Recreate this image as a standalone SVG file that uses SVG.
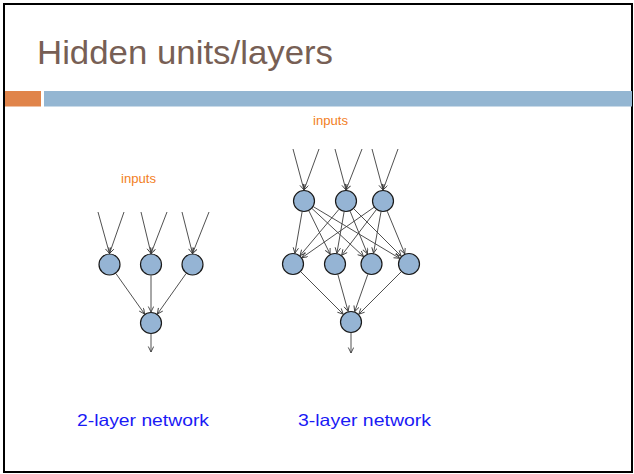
<svg xmlns="http://www.w3.org/2000/svg" width="634" height="474" viewBox="0 0 634 474">
  <style>
    .title { font-family: "Liberation Sans", Arial, sans-serif; font-size: 33.5px; fill: #775F55; }
    .inputs { font-family: "Liberation Sans", Arial, sans-serif; font-size: 13px; fill: #F27E1E; }
    .caption { font-family: "Liberation Sans", Arial, sans-serif; font-size: 16.5px; fill: #1A1AF5; }
    .unit { fill: #95B4D4; stroke: #1A1A1A; stroke-width: 1.2; }
    .edge { stroke: #3C3C3C; stroke-width: 0.9; fill: none; marker-end: url(#arrow); }
  </style>
  <defs>
    <marker id="arrow" markerUnits="userSpaceOnUse" markerWidth="8" markerHeight="8" refX="6" refY="3" orient="auto">
      <path d="M0.5,0.3 L6,3 L0.5,5.7" fill="none" stroke="#3C3C3C" stroke-width="0.9"/>
    </marker>
  </defs>

  <!-- page -->
  <rect x="0" y="0" width="634" height="474" fill="#FFFFFF"/>
  <rect x="4" y="4" width="628" height="468" fill="none" stroke="#000000" stroke-width="2"/>

  <!-- heading and rule bar -->
  <text class="title" x="37" y="64" textLength="296" lengthAdjust="spacingAndGlyphs">Hidden units/layers</text>
  <rect x="5" y="91" width="36" height="15.5" fill="#E0844A"/>
  <rect x="44" y="91" width="588" height="15.5" fill="#94B6D2"/>

  <!-- labels -->
  <text class="inputs" x="121" y="183" textLength="35" lengthAdjust="spacingAndGlyphs">inputs</text>
  <text class="inputs" x="313" y="125" textLength="35" lengthAdjust="spacingAndGlyphs">inputs</text>
  <text class="caption" x="77" y="426" textLength="132" lengthAdjust="spacingAndGlyphs">2-layer network</text>
  <text class="caption" x="298" y="426" textLength="133" lengthAdjust="spacingAndGlyphs">3-layer network</text>

  <!-- connectors -->
  <g id="connectors">
    <!-- 2-layer: inputs -> hidden -->
    <line class="edge" x1="98" y1="212" x2="109.5" y2="253.5"/>
    <line class="edge" x1="124" y1="212" x2="109.5" y2="253.5"/>
    <line class="edge" x1="141" y1="212" x2="151" y2="253.5"/>
    <line class="edge" x1="167" y1="212" x2="151" y2="253.5"/>
    <line class="edge" x1="182" y1="212" x2="192.5" y2="253.5"/>
    <line class="edge" x1="209" y1="212" x2="192.5" y2="253.5"/>
    <!-- 2-layer: hidden -> output -->
    <line class="edge" x1="115.9" y1="273.5" x2="144.6" y2="314"/>
    <line class="edge" x1="151" y1="275.5" x2="151" y2="312"/>
    <line class="edge" x1="186.1" y1="273.5" x2="157.4" y2="314"/>
    <line class="edge" x1="151" y1="334" x2="151" y2="352"/>

    <!-- 3-layer: inputs -> first hidden -->
    <line class="edge" x1="293" y1="149" x2="304" y2="190"/>
    <line class="edge" x1="319" y1="149" x2="304" y2="190"/>
    <line class="edge" x1="335" y1="149" x2="346" y2="190"/>
    <line class="edge" x1="362" y1="149" x2="346" y2="190"/>
    <line class="edge" x1="372" y1="149" x2="383" y2="190"/>
    <line class="edge" x1="398" y1="149" x2="383" y2="190"/>
    <!-- 3-layer: first hidden -> second hidden -->
    <line class="edge" x1="302.1" y1="211.8" x2="294.9" y2="253.2"/>
    <line class="edge" x1="308.9" y1="210.9" x2="330.1" y2="254.1"/>
    <line class="edge" x1="312" y1="208.5" x2="363.5" y2="256.5"/>
    <line class="edge" x1="313.4" y1="206.7" x2="399.6" y2="258.3"/>
    <line class="edge" x1="338.9" y1="209.4" x2="300.1" y2="255.6"/>
    <line class="edge" x1="344.1" y1="211.8" x2="336.9" y2="253.2"/>
    <line class="edge" x1="350.1" y1="211.2" x2="367.4" y2="253.8"/>
    <line class="edge" x1="353.8" y1="208.8" x2="401.2" y2="256.2"/>
    <line class="edge" x1="374" y1="207.3" x2="302" y2="257.7"/>
    <line class="edge" x1="376.3" y1="209.7" x2="341.7" y2="255.3"/>
    <line class="edge" x1="381" y1="211.8" x2="373.5" y2="253.2"/>
    <line class="edge" x1="387.2" y1="211.2" x2="404.8" y2="253.8"/>
    <!-- 3-layer: second hidden -> output -->
    <line class="edge" x1="300.8" y1="271.8" x2="343.2" y2="314.2"/>
    <line class="edge" x1="337.9" y1="274.6" x2="348.1" y2="311.4"/>
    <line class="edge" x1="367.8" y1="274.4" x2="354.7" y2="311.6"/>
    <line class="edge" x1="401.2" y1="271.8" x2="358.8" y2="314.2"/>
    <line class="edge" x1="351" y1="333" x2="351" y2="353"/>
  </g>

  <!-- 2-layer network units -->
  <g id="net2-hidden-1"><circle class="unit" cx="109.5" cy="264.5" r="10.5"/></g>
  <g id="net2-hidden-2"><circle class="unit" cx="151" cy="264.5" r="10.5"/></g>
  <g id="net2-hidden-3"><circle class="unit" cx="192.5" cy="264.5" r="10.5"/></g>
  <g id="net2-output"><circle class="unit" cx="151" cy="323" r="10.5"/></g>

  <!-- 3-layer network units -->
  <g id="net3-hidden1-1"><circle class="unit" cx="304" cy="201" r="10.5"/></g>
  <g id="net3-hidden1-2"><circle class="unit" cx="346" cy="201" r="10.5"/></g>
  <g id="net3-hidden1-3"><circle class="unit" cx="383" cy="201" r="10.5"/></g>
  <g id="net3-hidden2-1"><circle class="unit" cx="293" cy="264" r="10.5"/></g>
  <g id="net3-hidden2-2"><circle class="unit" cx="335" cy="264" r="10.5"/></g>
  <g id="net3-hidden2-3"><circle class="unit" cx="371.5" cy="264" r="10.5"/></g>
  <g id="net3-hidden2-4"><circle class="unit" cx="409" cy="264" r="10.5"/></g>
  <g id="net3-output"><circle class="unit" cx="351" cy="322" r="10.5"/></g>
</svg>
